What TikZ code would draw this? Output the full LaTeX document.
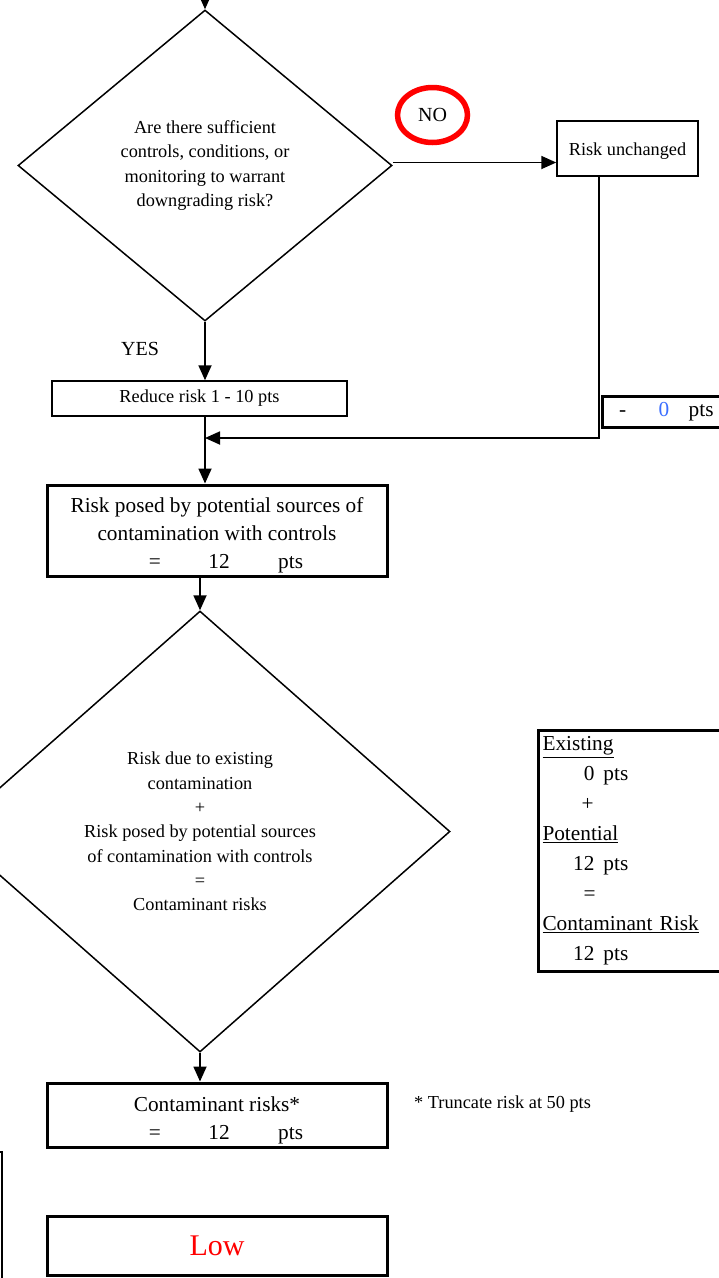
\documentclass[tikz,border=0pt]{standalone}
\usepackage{fontspec}
\setmainfont{Liberation Serif}
\usepackage{tikz}
\usetikzlibrary{arrows.meta}
\usetikzlibrary{shapes.geometric}
\definecolor{ptsblue}{RGB}{59,110,255}

\begin{document}
\begin{tikzpicture}[x=1pt, y=-1pt,
  smalltext/.style={font=\fontsize{18.3}{24.3}\selectfont},
  bigtext/.style={font=\fontsize{21.3}{28}\selectfont},
  thinbox/.style={draw, line width=1.5pt, smalltext, inner sep=0pt},
  thickbox/.style={draw, line width=3pt, bigtext, inner sep=0pt, align=center},
  decision/.style={draw, diamond, line width=1.5pt, smalltext, align=center, inner sep=0pt},
  flow/.style={line width=1.8pt, -{Triangle[length=15pt, width=13pt]}}]
\useasboundingbox (0,0) rectangle (719,1278);
\coordinate (entry) at (205,-40);
\node[decision, minimum width=374pt, minimum height=311pt] (ask) at (205,165.5) {Are there sufficient\\controls, conditions, or\\monitoring to warrant\\downgrading risk?};
\node[thinbox, minimum width=141pt, minimum height=55pt] (unchanged) at (627.5,148.5) {\rule{0pt}{17pt}Risk unchanged};
\node[draw=red, line width=5.5pt, ellipse, minimum width=70pt, minimum height=55pt, inner sep=0pt, font=\fontsize{20}{24}\selectfont] (no) at (432.5,115) {NO};
\node[font=\fontsize{20}{24}\selectfont] (yes) at (140,349) {YES};
\node[thinbox, minimum width=295pt, minimum height=35pt] (reduce) at (199.5,398.5) {Reduce risk 1 - 10 pts};
\node[thickbox, minimum width=140pt, minimum height=31pt, anchor=north west, inner xsep=16.5pt, text width=107pt, align=left] (change) at (601,395) {-\hspace{32.5pt}{\color{ptsblue}0}\hspace{19.5pt}pts};
\node[thickbox, minimum width=340pt, minimum height=91pt] (risk) at (217,530.5) {\rule{0pt}{25pt}Risk posed by potential sources of\\contamination with controls\\\hspace*{18pt}=\hspace{47.5pt}12\hspace{48.5pt}pts};
\node[decision, minimum width=500pt, minimum height=441pt] (sum) at (200,831.5) {Risk due to existing\\contamination\\+\\Risk posed by potential sources\\of contamination with controls\\=\\Contaminant risks};
\node[thickbox, minimum width=200pt, minimum height=241pt, anchor=north west, inner xsep=4pt, text width=192pt, align=left, font=\fontsize{21.3}{30}\selectfont] (tally) at (537,729) {\underline{Existing}\\
\hspace*{32pt}\makebox[20pt][r]{0}\hspace{9pt}pts\\
\hspace*{39pt}+\\
\underline{Potential}\\
\hspace*{32pt}\makebox[20pt][r]{12}\hspace{9pt}pts\\
\hspace*{41pt}=\\
\underline{Contaminant Risk}\\
\hspace*{32pt}\makebox[20pt][r]{12}\hspace{9pt}pts};
\node[thickbox, minimum width=340pt, minimum height=64pt] (total) at (217,1115) {\rule{0pt}{25pt}Contaminant risks*\\\hspace*{18pt}=\hspace{47.5pt}12\hspace{48.5pt}pts};
\node[smalltext, anchor=west, inner sep=0pt] (note) at (414,1104) {* Truncate risk at 50 pts};
\node[thickbox, minimum width=340pt, minimum height=59pt, text=red, font=\fontsize{30}{36}\selectfont] (level) at (217,1245.5) {Low};
\draw[line width=1.5pt] (-60,1152) rectangle (2,1320);
\coordinate (join) at (205,438);
\draw[flow] (entry) -- (ask.north);
\draw[flow] ([yshift=3pt]ask.east) -- ([yshift=3pt]ask.east -| unchanged.west);
\draw[flow] (ask.south) -- (ask.south |- reduce.north);
\draw[flow] (reduce.south -| ask.south) -- (risk.north -| ask.south);
\draw[flow] ([xshift=-28.5pt]unchanged.south) |- (join);
\draw[flow] (sum.north |- risk.south) -- (sum.north);
\draw[flow] (sum.south) -- (sum.south |- total.north);
\end{tikzpicture}
\end{document}
